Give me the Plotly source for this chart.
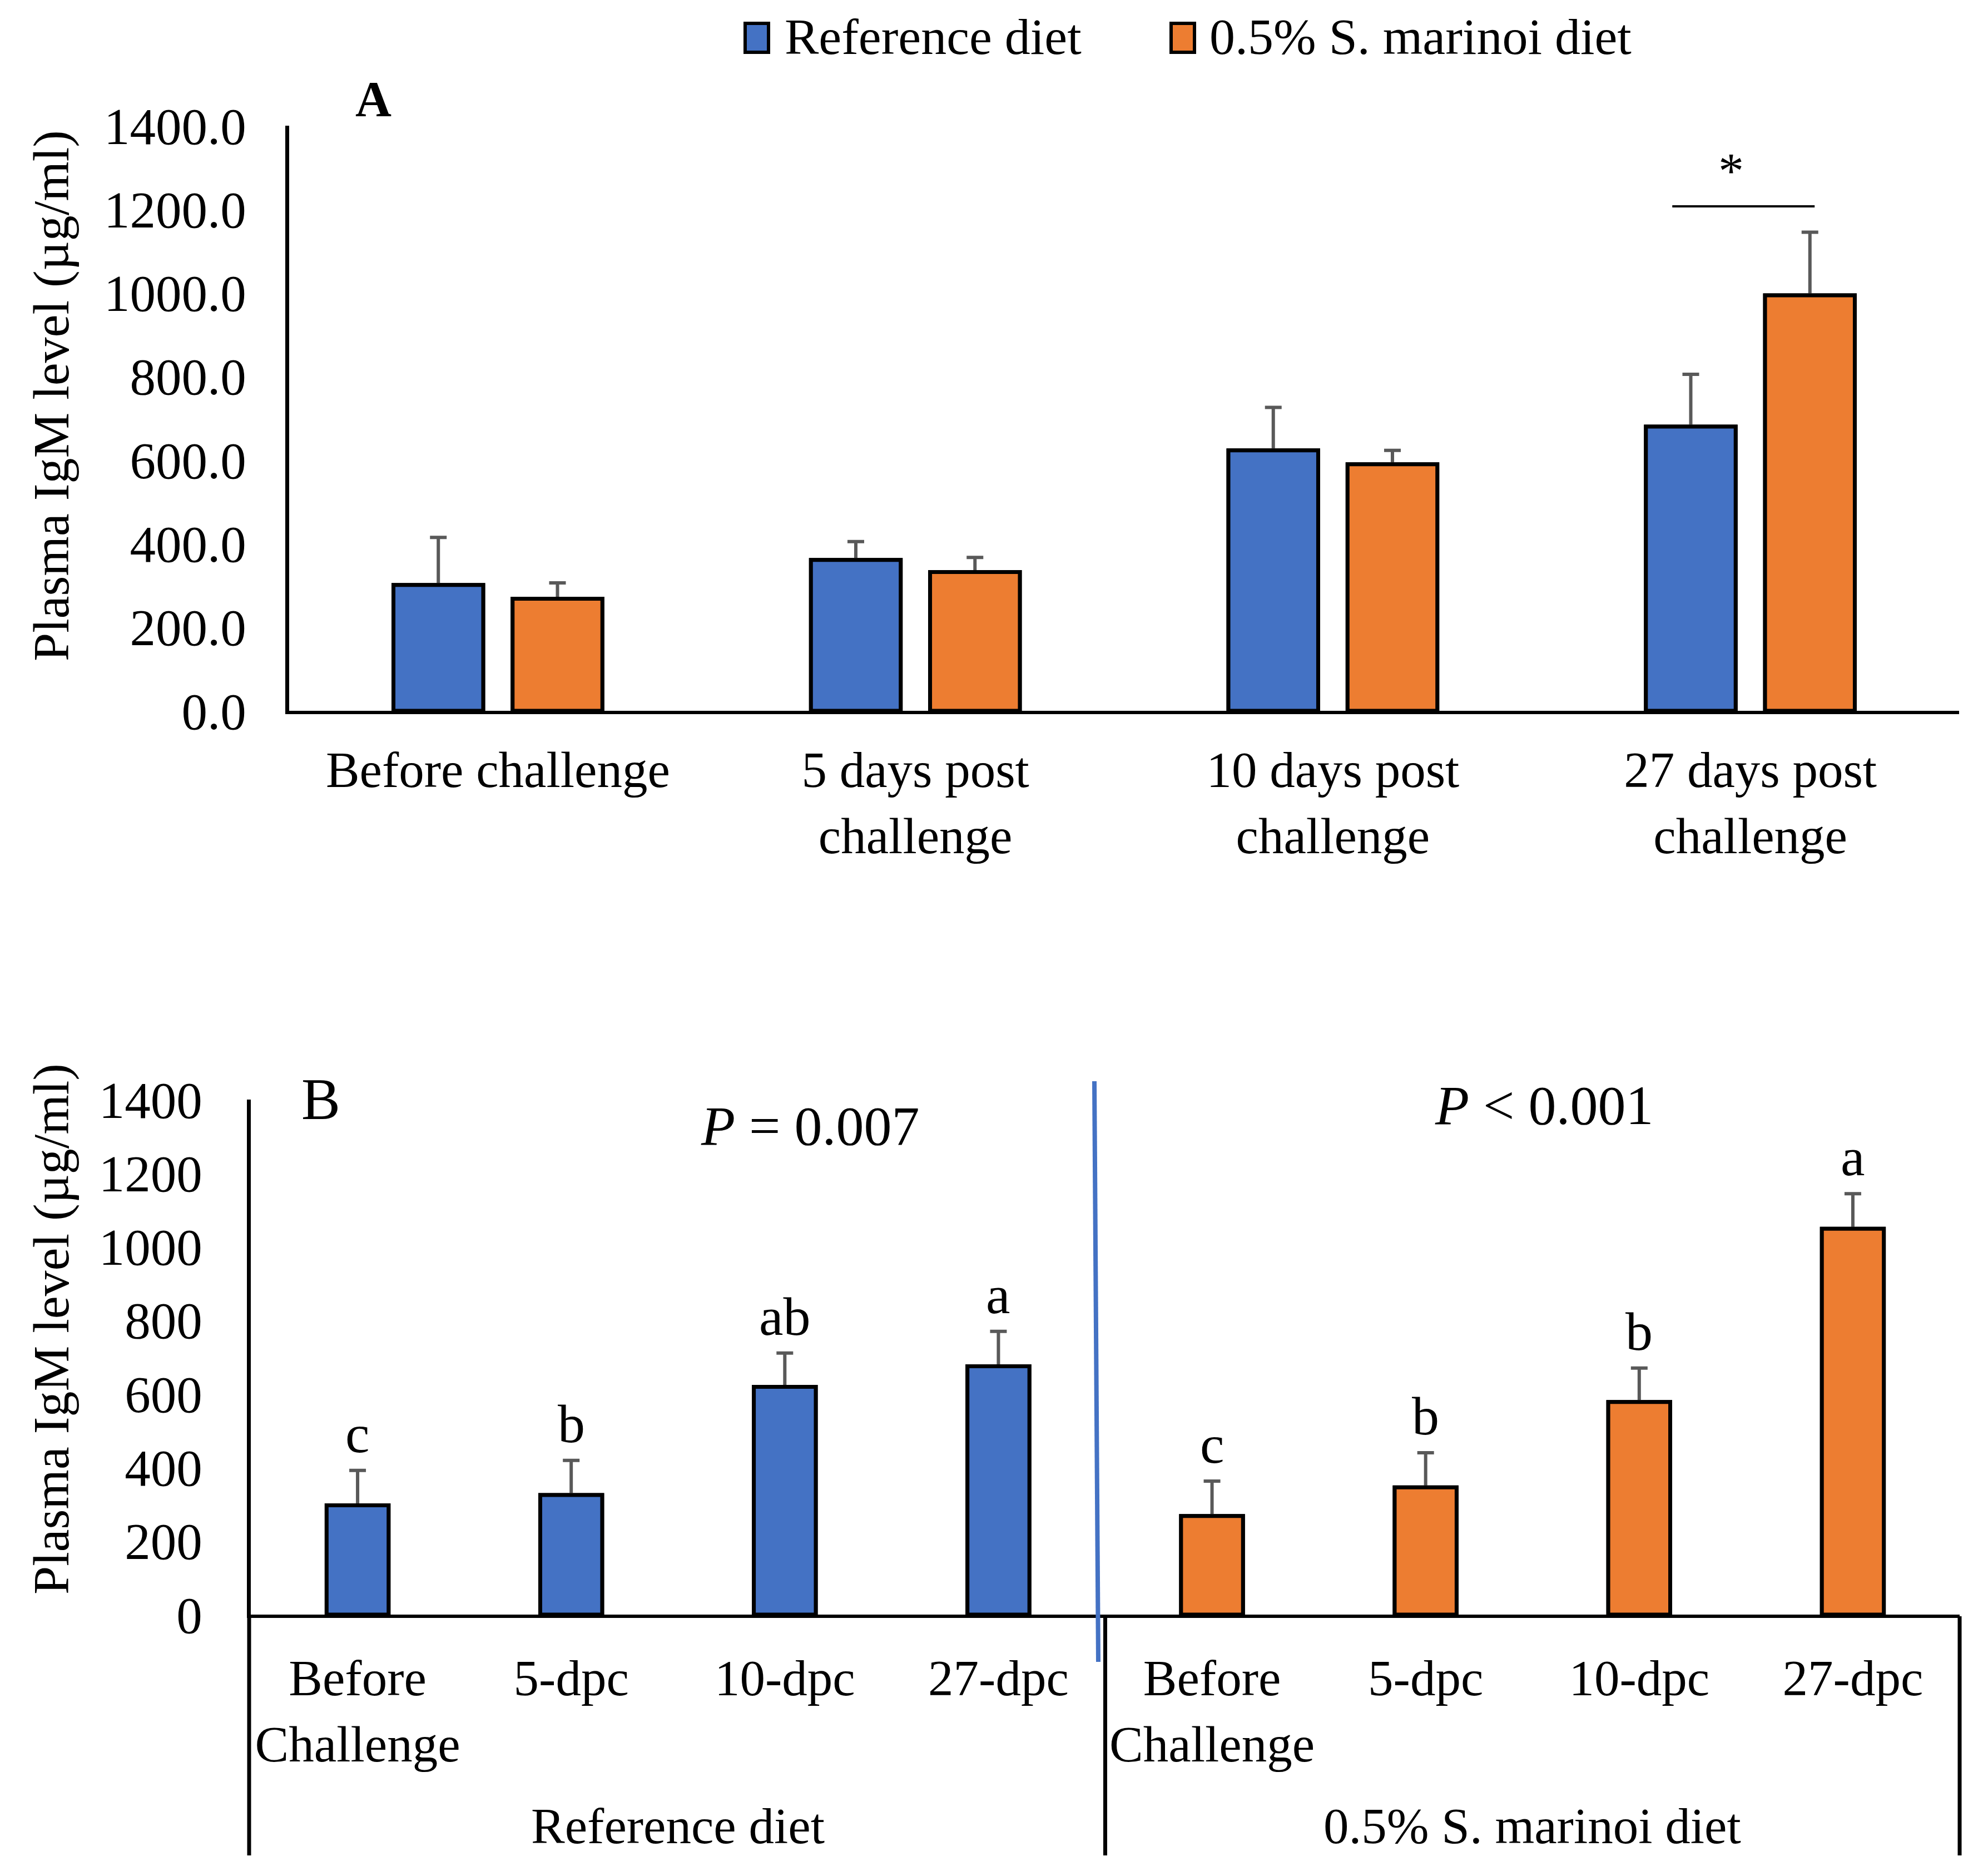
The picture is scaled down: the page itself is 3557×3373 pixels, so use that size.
import plotly.graph_objects as go

W, H = 3557, 3373

# ---------------- data ----------------
timepoints_A = ["Before challenge", "5 days post<br>challenge",
                "10 days post<br>challenge", "27 days post<br>challenge"]
ref_A = [301, 361, 623, 680]
ref_A_err = [114, 44, 103, 125]
sm_A = [268, 332, 590, 994]
sm_A_err = [38, 35, 33, 151]

timepoints_B = ["Before<br>Challenge", "5-dpc", "10-dpc", "27-dpc"]
diets = ["Reference diet", "0.5% S. marinoi diet"]
ref_B = [297, 325, 619, 675]
ref_B_err = [95, 94, 92, 95]
sm_B = [268, 346, 578, 1049]
sm_B_err = [95, 94, 92, 95]
ref_B_letters = ["c", "b", "ab", "a"]
sm_B_letters = ["c", "b", "b", "a"]
p_texts = ["<i>P</i> = 0.007", "<i>P</i> &lt; 0.001"]

y_ticks = [0, 200, 400, 600, 800, 1000, 1200, 1400]

BLUE = "#4472C4"
ORANGE = "#ED7D31"
GREY = "#595959"
FONT = "Liberation Serif"


def px(x):
    return x / W


def py(y):
    return 1 - y / H


fig = go.Figure()

xA = list(range(len(timepoints_A)))
barw_A = 0.215
offs_A = {"ref": -0.2502, "sm": 0.0352}


def err(arr, show):
    return dict(type="data", array=arr, arrayminus=[0] * len(arr), symmetric=False,
                color=GREY, thickness=6, width=15, visible=show)


# panel A bars (with error bars, then clean overlay to hide error-bar shoes)
for show in (True, False):
    fig.add_trace(go.Bar(x=xA, y=ref_A, width=barw_A, offset=offs_A["ref"],
                         marker=dict(color=BLUE, line=dict(color="black", width=7)),
                         error_y=err(ref_A_err, show), xaxis="x", yaxis="y",
                         name=diets[0], showlegend=False, hoverinfo="skip"))
    fig.add_trace(go.Bar(x=xA, y=sm_A, width=barw_A, offset=offs_A["sm"],
                         marker=dict(color=ORANGE, line=dict(color="black", width=7)),
                         error_y=err(sm_A_err, show), xaxis="x", yaxis="y",
                         name=diets[1], showlegend=False, hoverinfo="skip"))

# panel B bars
yB = ref_B + sm_B
eB = ref_B_err + sm_B_err
xB = list(range(len(yB)))
colB = [BLUE] * len(ref_B) + [ORANGE] * len(sm_B)
for show in (True, False):
    fig.add_trace(go.Bar(x=xB, y=yB, width=0.29, offset=-0.145,
                         marker=dict(color=colB, line=dict(color="black", width=7)),
                         error_y=err(eB, show), xaxis="x2", yaxis="y2",
                         showlegend=False, hoverinfo="skip"))

axis_common = dict(showgrid=False, zeroline=False, showline=True, linecolor="black",
                   ticks="", automargin=False, fixedrange=True)

fig.update_layout(
    width=W, height=H, margin=dict(l=0, r=0, t=0, b=0),
    template="none", paper_bgcolor="white", plot_bgcolor="white",
    showlegend=False, barmode="overlay",
    font=dict(family=FONT, color="black"),
    xaxis=dict(domain=[px(520), px(3523)], range=[-0.5, 3.5], anchor="y",
               tickvals=xA, ticktext=timepoints_A, linewidth=6,
               tickfont=dict(size=91, family=FONT, color="black"),
               ticklabelstandoff=22, **axis_common),
    yaxis=dict(domain=[py(1278), py(226)], range=[0, 1400], anchor="x",
               tickvals=y_ticks, tickformat=".1f", linewidth=6.5,
               tickfont=dict(size=93, family=FONT, color="black"),
               ticklabelstandoff=52, **axis_common),
    xaxis2=dict(domain=[px(451), px(3524)], range=[-0.5, 7.5], anchor="y2",
                tickvals=xB, ticktext=timepoints_B * 2, linewidth=6,
                tickfont=dict(size=91, family=FONT, color="black"),
                ticklabelstandoff=30, **axis_common),
    yaxis2=dict(domain=[py(2903), py(1977)], range=[0, 1400], anchor="x2",
                tickvals=y_ticks, linewidth=6.5,
                tickfont=dict(size=93, family=FONT, color="black"),
                ticklabelstandoff=62, **axis_common),
)

shapes = []
annotations = []

# legend (manual, large swatches)
for i, (name, col, bx, tx) in enumerate([(diets[0], BLUE, 1340, 1409),
                                          (diets[1], ORANGE, 2106, 2173)]):
    shapes.append(dict(type="rect", xref="paper", yref="paper",
                       x0=px(bx), x1=px(bx + 42), y0=py(94), y1=py(42),
                       fillcolor=col, line=dict(color="black", width=6)))
    annotations.append(dict(xref="paper", yref="paper", x=px(tx), y=py(66),
                            xanchor="left", yanchor="middle", text=name, showarrow=False,
                            font=dict(size=92, family=FONT, color="black")))

# y-axis titles
for yc in (712, 2390):
    annotations.append(dict(xref="paper", yref="paper", x=px(92), y=py(yc),
                            text="Plasma IgM level (µg/ml)", textangle=-90, showarrow=False,
                            xanchor="center", yanchor="middle",
                            font=dict(size=92, family=FONT, color="black")))

# panel letters
annotations.append(dict(xref="paper", yref="paper", x=px(671), y=py(178), text="<b>A</b>",
                        showarrow=False, xanchor="center", yanchor="middle",
                        font=dict(size=90, family=FONT, color="black")))
annotations.append(dict(xref="paper", yref="paper", x=px(577), y=py(1976), text="B",
                        showarrow=False, xanchor="center", yanchor="middle",
                        font=dict(size=105, family=FONT, color="black")))

# significance bar in panel A
shapes.append(dict(type="line", xref="x", yref="y", x0=2.813, x1=3.154, y0=1207, y1=1207,
                   line=dict(color="black", width=4)))
annotations.append(dict(xref="x", yref="y", x=2.954, y=1292, text="*", showarrow=False,
                        xanchor="center", yanchor="middle",
                        font=dict(size=92, family=FONT, color="black")))

# P values in panel B
for t, xc, yc in zip(p_texts, (1457, 2777), (2025, 1987)):
    annotations.append(dict(xref="paper", yref="paper", x=px(xc), y=py(yc), text=t,
                            showarrow=False, xanchor="center", yanchor="middle",
                            font=dict(size=100, family=FONT, color="black")))

# letters over bars in panel B
for xi, (lab, v, e) in enumerate(zip(ref_B_letters + sm_B_letters, yB, eB)):
    annotations.append(dict(xref="x2", yref="y2", x=xB[xi], y=v + e + 100, text=lab,
                            showarrow=False, xanchor="center", yanchor="middle",
                            font=dict(size=98, family=FONT, color="black")))

# group labels and dividers in panel B
n = len(timepoints_B)
for gi, g in enumerate(diets):
    annotations.append(dict(xref="x2", yref="paper", x=gi * n + (n - 1) / 2, y=py(3283),
                            text=g, showarrow=False, xanchor="center", yanchor="middle",
                            font=dict(size=91, family=FONT, color="black")))
shapes.append(dict(type="line", xref="paper", yref="paper", x0=px(448), x1=px(448),
                   y0=py(2906), y1=py(3336), line=dict(color="black", width=7)))
shapes.append(dict(type="line", xref="x2", yref="paper", x0=n - 0.5, x1=n - 0.5,
                   y0=py(2906), y1=py(3336), line=dict(color="black", width=7)))
shapes.append(dict(type="line", xref="paper", yref="paper", x0=px(3524), x1=px(3524),
                   y0=py(2906), y1=py(3336), line=dict(color="black", width=7)))

# blue separator line
shapes.append(dict(type="line", xref="paper", yref="paper", x0=px(1968), x1=px(1975),
                   y0=py(1944), y1=py(2988), line=dict(color=BLUE, width=8)))

fig.update_layout(shapes=shapes, annotations=annotations)

fig.write_html("out.html")
